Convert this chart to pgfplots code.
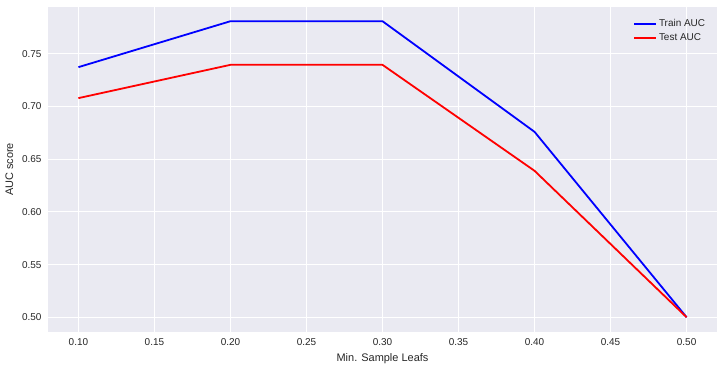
\documentclass[border=0pt]{standalone}
\usepackage{fontspec}
\setmainfont{Liberation Sans}
\usepackage{pgfplots}
\pgfplotsset{compat=1.18}
\definecolor{sbbg}{HTML}{EAEAF2}
\definecolor{txt}{HTML}{262626}
\begin{document}
\begin{tikzpicture}
\begin{axis}[
  scale only axis,
  width=669bp, height=325bp,
  xmin=0.08, xmax=0.52,
  ymin=0.486, ymax=0.7945,
  axis background/.style={fill=sbbg},
  axis line style={draw=none},
  grid=major,
  major grid style={white, line width=1bp},
  major tick length=0pt,
  xtick={0.10,0.15,...,0.51},
  ytick={0.50,0.55,...,0.76},
  /pgf/number format/assume math mode=true,
  xticklabel style={yshift=-3bp,/pgf/number format/.cd,fixed,fixed zerofill,precision=2},
  yticklabel style={xshift=-3bp,/pgf/number format/.cd,fixed,fixed zerofill,precision=2},
  tick label style={font=\fontsize{10}{12}\selectfont, text=txt},
  label style={font=\fontsize{11}{13}\selectfont, text=txt},
  xlabel={Min. Sample Leafs},
  ylabel={AUC score},
  xlabel style={yshift=-1bp},
  ylabel style={yshift=2bp},
  legend style={draw=none, fill=none, at={(0.99,0.975)}, anchor=north east,
    font=\fontsize{10}{12}\selectfont, text=txt, row sep=2bp},
  legend cell align=left,
  legend image code/.code={\draw[#1, line width=1.8bp] (0bp,0bp) -- (22bp,0bp);},
]
\addplot[color={rgb,255:red,0;green,0;blue,255}, line width=1.8bp] coordinates {(0.1,0.7374) (0.2,0.781) (0.3,0.781) (0.4,0.676) (0.5,0.500)};
\addlegendentry{Train AUC}
\addplot[color={rgb,255:red,255;green,0;blue,0}, line width=1.8bp] coordinates {(0.1,0.708) (0.2,0.7396) (0.3,0.7396) (0.4,0.639) (0.5,0.500)};
\addlegendentry{Test AUC}
\end{axis}
\path ([xshift=-48bp,yshift=-39bp]current axis.south west) rectangle ([xshift=7bp,yshift=7bp]current axis.north east);
\end{tikzpicture}
\end{document}
